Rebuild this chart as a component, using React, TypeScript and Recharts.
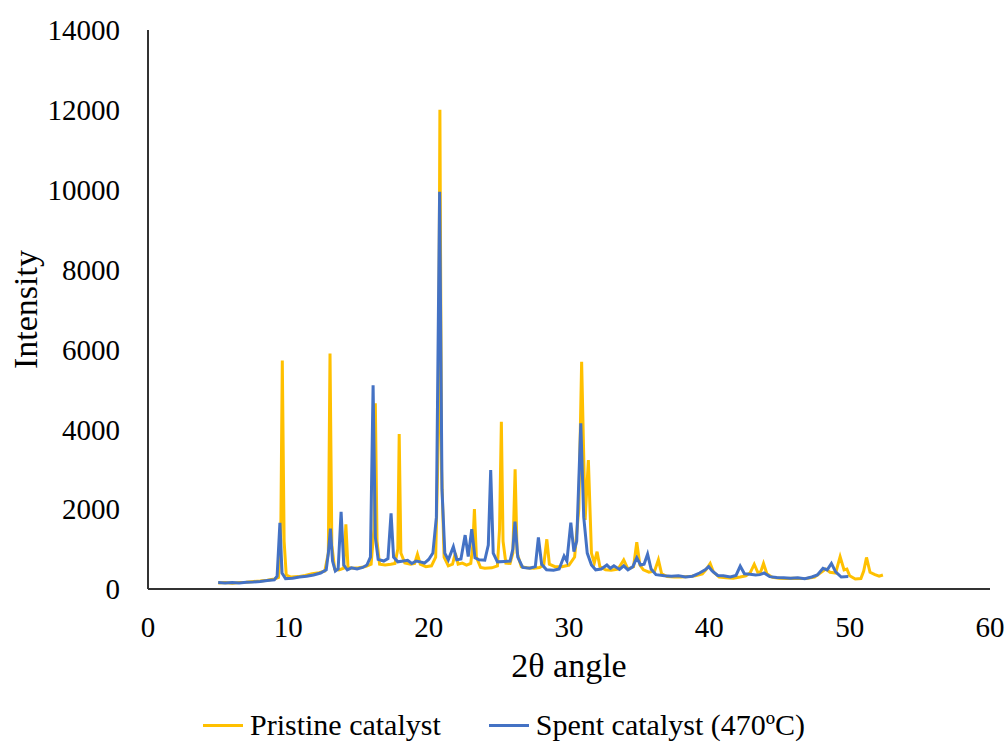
import React from "react";
import { LineChart, Line, XAxis, YAxis } from "recharts";

const FONT = '"Liberation Serif", "Times New Roman", serif';

const xTicks = [0, 10, 20, 30, 40, 50, 60];
const yTicks = [0, 2000, 4000, 6000, 8000, 10000, 12000, 14000];

const seriesNames = ["Pristine catalyst", "Spent catalyst (470ºC)"];
const seriesColors = ["#FFC000", "#4472C4"];

const pristinePoints: [number, number][] = [
  [5.0, 150], [5.5, 160], [6.0, 145], [6.5, 165], [7.0, 170], [7.5, 185], [8.0, 200], [8.5, 220],
  [9.0, 250], [9.3, 290], [9.45, 900], [9.57, 5720], [9.7, 1200], [9.85, 350], [10.2, 300], [10.7, 310],
  [11.2, 340], [11.7, 380], [12.2, 410], [12.6, 450], [12.85, 900], [12.97, 5900], [13.1, 1100], [13.3, 500],
  [13.6, 480], [13.95, 520], [14.1, 1620], [14.25, 540], [14.6, 520], [15.0, 530], [15.5, 560], [15.9, 620],
  [16.1, 1500], [16.2, 4650], [16.32, 1200], [16.5, 620], [16.9, 600], [17.3, 620], [17.6, 640], [17.8, 1000],
  [17.9, 3880], [18.02, 900], [18.3, 650], [18.7, 620], [19.0, 640], [19.2, 870], [19.4, 620], [19.8, 560],
  [20.2, 580], [20.5, 800], [20.7, 4000], [20.8, 12000], [20.92, 3000], [21.1, 800], [21.4, 580], [21.7, 620],
  [21.9, 900], [22.1, 620], [22.4, 650], [22.7, 600], [23.0, 640], [23.15, 1100], [23.26, 2000], [23.4, 800],
  [23.7, 540], [24.0, 520], [24.5, 530], [24.9, 580], [25.05, 1500], [25.18, 4190], [25.3, 1200], [25.5, 650],
  [25.8, 640], [26.0, 900], [26.16, 3000], [26.3, 900], [26.6, 560], [27.0, 530], [27.5, 520], [27.9, 540],
  [28.2, 600], [28.42, 1245], [28.6, 620], [29.0, 560], [29.5, 560], [30.0, 600], [30.4, 800], [30.7, 2000],
  [30.9, 5690], [31.15, 1730], [31.38, 3230], [31.6, 900], [31.8, 650], [32.0, 935], [32.2, 560], [32.6, 480],
  [33.0, 470], [33.5, 500], [33.9, 730], [34.2, 500], [34.6, 560], [34.83, 1170], [35.05, 600], [35.3, 480],
  [35.7, 420], [36.1, 450], [36.37, 730], [36.6, 380], [37.0, 310], [37.5, 300], [38.0, 300], [38.5, 310],
  [39.0, 330], [39.5, 380], [39.8, 500], [40.06, 640], [40.3, 420], [40.7, 300], [41.2, 280], [41.7, 270],
  [42.2, 300], [42.6, 330], [42.9, 400], [43.2, 620], [43.45, 420], [43.65, 420], [43.86, 640], [44.1, 380],
  [44.5, 290], [45.0, 270], [45.5, 260], [46.0, 270], [46.5, 260], [47.0, 270], [47.5, 300], [47.9, 400],
  [48.3, 500], [48.6, 420], [49.0, 400], [49.32, 810], [49.6, 480], [49.8, 500], [50.0, 330], [50.4, 250],
  [50.8, 260], [51.0, 450], [51.2, 790], [51.45, 420], [51.8, 360], [52.1, 320], [52.37, 350],
];

const spentPoints: [number, number][] = [
  [5.0, 160], [5.5, 150], [6.0, 160], [6.5, 150], [7.0, 170], [7.5, 175], [8.0, 190], [8.5, 210],
  [9.0, 230], [9.2, 320], [9.4, 1660], [9.55, 400], [9.8, 260], [10.3, 270], [10.8, 300], [11.3, 320],
  [11.8, 350], [12.3, 400], [12.7, 480], [12.85, 900], [13.0, 1510], [13.15, 700], [13.35, 450], [13.55, 500],
  [13.76, 1930], [13.95, 600], [14.2, 480], [14.5, 530], [14.9, 500], [15.3, 540], [15.6, 600], [15.85, 800],
  [16.04, 5100], [16.2, 1300], [16.4, 740], [16.8, 700], [17.1, 760], [17.32, 1895], [17.5, 800], [17.8, 680],
  [18.2, 700], [18.5, 720], [18.8, 640], [19.1, 700], [19.4, 680], [19.7, 650], [20.0, 740], [20.3, 900],
  [20.55, 1800], [20.78, 9950], [20.95, 2500], [21.15, 900], [21.4, 730], [21.76, 1060], [22.0, 730], [22.3, 750],
  [22.6, 1350], [22.82, 810], [23.07, 1500], [23.3, 780], [23.6, 730], [24.0, 720], [24.25, 1100], [24.42, 2980],
  [24.6, 900], [24.9, 680], [25.4, 690], [25.8, 700], [26.0, 1000], [26.15, 1690], [26.35, 800], [26.7, 540],
  [27.2, 520], [27.6, 560], [27.82, 1290], [28.05, 620], [28.4, 480], [28.9, 470], [29.3, 500], [29.65, 825],
  [29.85, 700], [30.13, 1660], [30.35, 935], [30.55, 1200], [30.84, 4150], [31.05, 1800], [31.3, 900], [31.6, 600],
  [31.9, 480], [32.3, 500], [32.7, 600], [32.95, 520], [33.2, 580], [33.6, 490], [33.9, 580], [34.2, 480],
  [34.55, 560], [34.83, 785], [35.1, 600], [35.35, 620], [35.6, 875], [35.85, 500], [36.2, 360], [36.8, 330],
  [37.3, 320], [37.8, 330], [38.3, 300], [38.8, 320], [39.3, 400], [39.7, 480], [39.95, 560], [40.2, 450],
  [40.6, 340], [41.0, 330], [41.5, 300], [41.9, 340], [42.2, 575], [42.5, 380], [42.9, 370], [43.3, 350],
  [43.6, 360], [43.9, 400], [44.3, 310], [44.8, 290], [45.3, 280], [45.8, 270], [46.3, 280], [46.8, 260],
  [47.3, 300], [47.7, 350], [48.1, 520], [48.4, 480], [48.7, 640], [49.0, 430], [49.4, 300], [49.9, 310],
];

const pristineData = pristinePoints.map(([x, y]) => ({ x, y }));
const spentData = spentPoints.map(([x, y]) => ({ x, y }));

const YTitle = (props: any) => {
  const vb = props.viewBox || { x: 0, y: 30, width: 148, height: 559 };
  const cx = vb.x + 25;
  const cy = vb.y + vb.height / 2;
  return (
    <text
      x={cx}
      y={cy}
      transform={`rotate(-90, ${cx}, ${cy})`}
      textAnchor="middle"
      dominantBaseline="central"
      fontFamily={FONT}
      fontSize={34}
      fill="#000"
    >
      Intensity
    </text>
  );
};

export default function App() {
  return (
    <div style={{ position: "absolute", left: 0, top: 0, width: 1008, height: 746, background: "#fff", overflow: "hidden" }}>
      <LineChart
        width={1008}
        height={746}
        margin={{ top: 30, right: 18, left: 0, bottom: 67 }}
      >
        <XAxis
          type="number"
          dataKey="x"
          domain={[0, 60]}
          ticks={xTicks}
          allowDataOverflow
          height={90}
          tickLine={false}
          tickSize={0}
          tickMargin={27}
          axisLine={{ stroke: "#333", strokeWidth: 2 }}
          tick={{ fill: "#000", fontSize: 29, fontFamily: FONT }}
          label={{ value: "2θ angle", position: "insideBottom", offset: 2, fill: "#000", fontSize: 34, fontFamily: FONT }}
        />
        <YAxis
          type="number"
          domain={[0, 14000]}
          ticks={yTicks}
          width={148}
          tickLine={false}
          tickSize={0}
          tickMargin={28}
          axisLine={{ stroke: "#333", strokeWidth: 2 }}
          tick={{ fill: "#000", fontSize: 29, fontFamily: FONT }}
          label={<YTitle />}
        />
        <Line
          data={pristineData}
          dataKey="y"
          name={seriesNames[0]}
          type="linear"
          stroke={seriesColors[0]}
          strokeWidth={3}
          dot={false}
          isAnimationActive={false}
        />
        <Line
          data={spentData}
          dataKey="y"
          name={seriesNames[1]}
          type="linear"
          stroke={seriesColors[1]}
          strokeWidth={3}
          dot={false}
          isAnimationActive={false}
        />
      </LineChart>
      <div
        style={{
          position: "absolute",
          left: 0,
          top: 708,
          width: 1008,
          display: "flex",
          justifyContent: "center",
          alignItems: "center",
          gap: 48,
          fontFamily: FONT,
          fontSize: 30,
          color: "#000",
          lineHeight: "34px",
          whiteSpace: "nowrap",
        }}
      >
        {seriesNames.map((n, i) => (
          <div key={n} style={{ display: "flex", alignItems: "center" }}>
            <span style={{ display: "inline-block", width: 40, height: 3, background: seriesColors[i], marginRight: 7 }} />
            <span>{n}</span>
          </div>
        ))}
      </div>
    </div>
  );
}
